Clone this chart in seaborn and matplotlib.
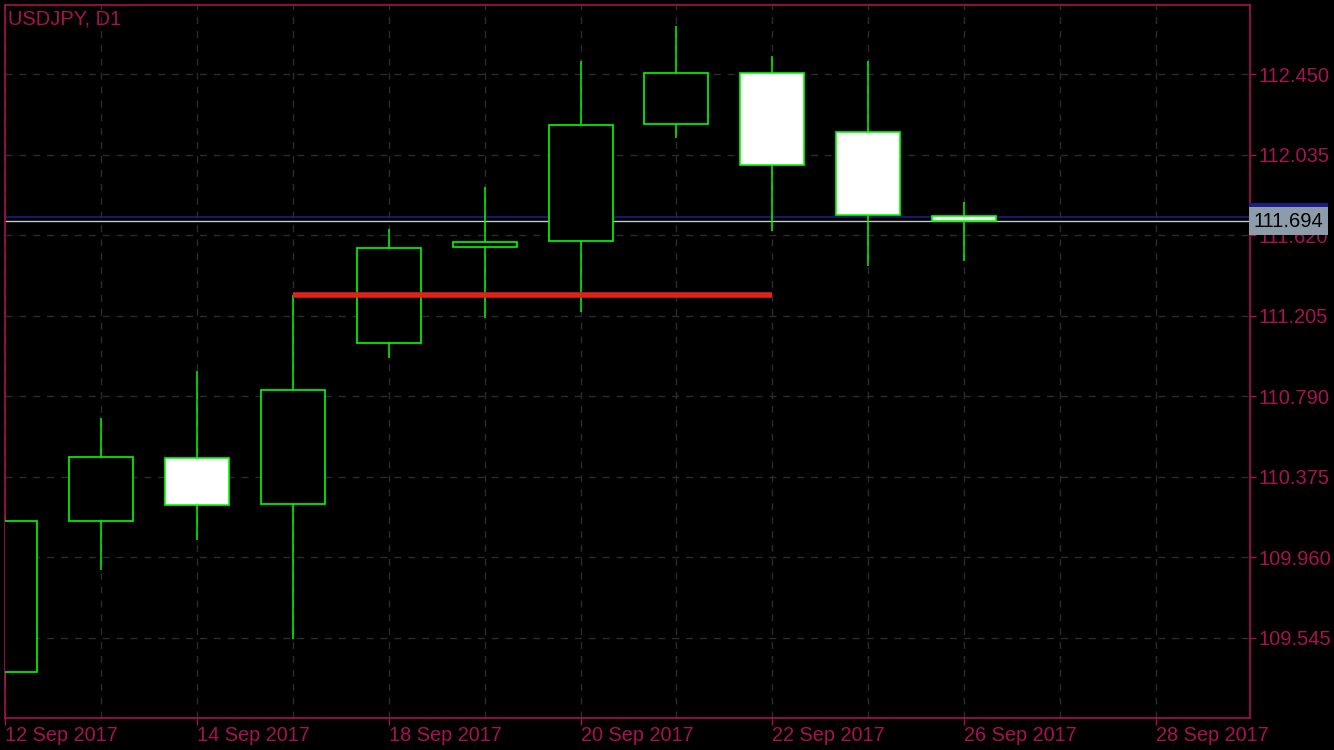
import matplotlib
matplotlib.use("Agg")
import matplotlib.pyplot as plt
import seaborn as sns
import pandas as pd

# USDJPY daily bars
dates = ["12 Sep 2017", "13 Sep 2017", "14 Sep 2017", "15 Sep 2017", "18 Sep 2017",
         "19 Sep 2017", "20 Sep 2017", "21 Sep 2017", "22 Sep 2017", "25 Sep 2017",
         "26 Sep 2017", "27 Sep 2017", "28 Sep 2017"]
opens = [109.367, 110.146, 110.471, 110.233, 111.064, 111.559, 111.590, 112.193, 112.456, 112.152, 111.719]
highs = [110.180, 110.679, 110.921, 111.313, 111.653, 111.870, 112.520, 112.700, 112.545, 112.520, 111.792]
lows = [109.300, 109.896, 110.051, 109.540, 110.989, 111.194, 111.227, 112.124, 111.644, 111.462, 111.490]
closes = [110.146, 110.476, 110.228, 110.823, 111.554, 111.585, 112.188, 112.456, 111.982, 111.724, 111.694]

price_ticks = [109.545, 109.960, 110.375, 110.790, 111.205, 111.620, 112.035, 112.450]
bid = 111.694
ask = 111.714
level = 111.313          # red horizontal line
level_from, level_to = 3, 8

df = pd.DataFrame({"open": opens, "high": highs, "low": lows, "close": closes})
df["bar"] = range(len(df))
df["bottom"] = df[["open", "close"]].min(axis=1)
df["height"] = (df["close"] - df["open"]).abs()
df["fill"] = ["white" if c < o else "black" for o, c in zip(df["open"], df["close"])]

FRAME = "#a8124f"
GREEN = "#00ff00"
GRID = "#2b2b2b"

sns.set_theme(style="dark", rc={
    "figure.facecolor": "black",
    "axes.facecolor": "black",
    "axes.edgecolor": FRAME,
    "axes.linewidth": 1.2,
    "xtick.color": FRAME,
    "ytick.color": FRAME,
    "text.color": FRAME,
})
plt.rcParams["font.family"] = ["Liberation Sans", "DejaVu Sans"]

fig = plt.figure(figsize=(13.34, 7.5), dpi=100)
ax = fig.add_axes([4.5 / 1334, 1 - 718 / 750, (1250 - 4.5) / 1334, (718 - 5) / 750])

# wicks and bodies
ax.vlines(df["bar"], df["low"], df["high"], color=GREEN, lw=1.1, zorder=2)
ax.bar(df["bar"], df["height"], bottom=df["bottom"], width=0.667,
       color=df["fill"], edgecolor=GREEN, linewidth=1.2, zorder=3)

# bid / ask lines
ax.axhline(ask, color="#1c1c8a", lw=1.2, zorder=1)
ax.axhline(bid, color="#c4c8cc", lw=1.0, zorder=1)
ax.hlines(level, level_from, level_to, color="#e0221a", lw=4, zorder=4)

ax.set_xlim(-0.002, 12.976)
ax.set_ylim(109.131, 112.808)

ax.set_xticks(range(0, len(dates), 2))
ax.set_xticklabels(dates[::2], ha="left")
ax.set_xticks(range(len(dates)), minor=True)
ax.yaxis.tick_right()
ax.set_yticks(price_ticks)
ax.set_yticklabels([f"{p:.3f}" for p in price_ticks])
ax.tick_params(axis="x", which="major", length=5, width=1, pad=1, labelsize=14.3, bottom=True)
ax.tick_params(axis="x", which="minor", length=0)
ax.tick_params(axis="y", length=4, width=1, pad=2, labelsize=14.5, right=True, left=False)

ax.grid(True, which="both", color=GRID, ls=(0, (5, 5)), lw=1)
ax.set_axisbelow(True)

# price labels on the right scale
lab = dict(xycoords=ax.get_yaxis_transform(), va="center", ha="left", fontsize=14.5,
           color="black", annotation_clip=False)
ax.annotate("111.714", (1.003, ask), bbox=dict(boxstyle="square,pad=0.22", fc="#1c1c8a", ec="none"), **lab)
ax.annotate(f"{bid:.3f}", (1.003, bid), bbox=dict(boxstyle="square,pad=0.22", fc="#8d9cab", ec="none"), **lab)

ax.text(0.003, 0.993, "USDJPY, D1", transform=ax.transAxes, fontsize=14.5, va="top", ha="left", color=FRAME)

fig.savefig("out.png", dpi=100, facecolor="black")
